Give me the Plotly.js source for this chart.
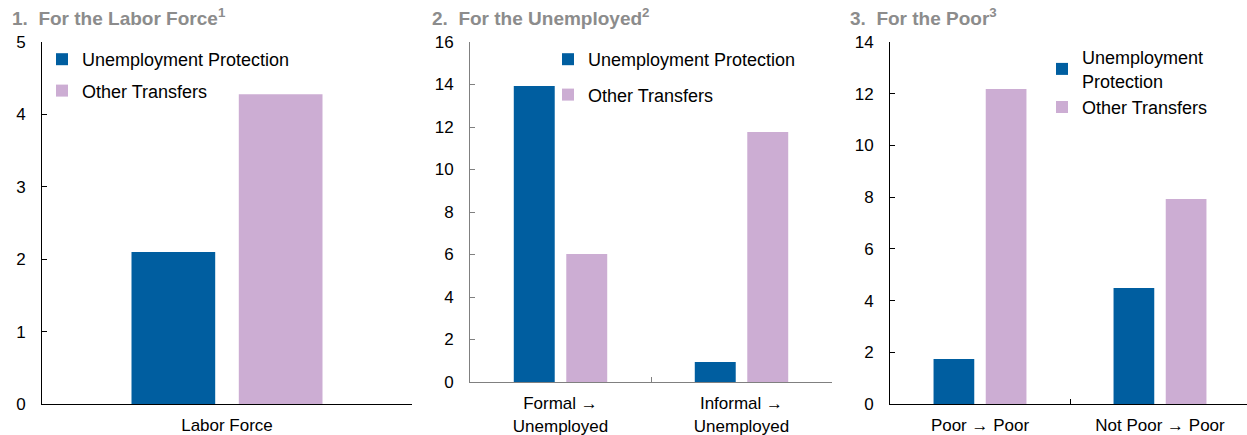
<!DOCTYPE html>
<html>
<head>
<meta charset="utf-8">
<script src="https://cdn.plot.ly/plotly-3.0.1.min.js"></script>
<style>html,body{margin:0;padding:0;background:#fff;}#chart{width:1247px;height:435px;}</style>
</head>
<body>
<div id="chart"></div>
<script>
// Data
const cats1 = ["Labor Force"];
const cats2 = ["Formal →<br>Unemployed", "Informal →<br>Unemployed"];
const cats3 = ["Poor → Poor", "Not Poor → Poor"];
const unempProt1 = [2.10];
const otherTr1 = [4.28];
const unempProt2 = [13.93, 0.94];
const otherTr2 = [6.02, 11.76];
const unempProt3 = [1.74, 4.49];
const otherTr3 = [12.18, 7.93];
const titles = ["1.&nbsp;&nbsp;For the Labor Force<sup>1</sup>", "2.&nbsp;&nbsp;For the Unemployed<sup>2</sup>", "3.&nbsp;&nbsp;For the Poor<sup>3</sup>"];

const BLUE = "#005EA0", PINK = "#CCADD3";
const W = 1247, H = 435;
const px = v => v / W;
const py = v => 1 - v / H;

const traces = [
  {type:"bar", x:cats1, y:unempProt1, name:"Unemployment Protection", marker:{color:BLUE}, xaxis:"x", yaxis:"y", legend:"legend", legendgroup:"a1"},
  {type:"bar", x:cats1, y:otherTr1, name:"Other Transfers", marker:{color:PINK}, xaxis:"x", yaxis:"y", legend:"legend", legendgroup:"b1"},
  {type:"bar", x:cats2, y:unempProt2, name:"Unemployment Protection", marker:{color:BLUE}, xaxis:"x2", yaxis:"y2", legend:"legend2", legendgroup:"a2"},
  {type:"bar", x:cats2, y:otherTr2, name:"Other Transfers", marker:{color:PINK}, xaxis:"x2", yaxis:"y2", legend:"legend2", legendgroup:"b2"},
  {type:"bar", x:cats3, y:unempProt3, name:"Unemployment<br>Protection", marker:{color:BLUE}, xaxis:"x3", yaxis:"y3", legend:"legend3", legendgroup:"a3"},
  {type:"bar", x:cats3, y:otherTr3, name:"Other Transfers", marker:{color:PINK}, xaxis:"x3", yaxis:"y3", legend:"legend3", legendgroup:"b3"}
];
traces.forEach(t => { t.hoverinfo = "none"; });

const FONT = "Liberation Sans, Arial, sans-serif";
function xax(d, col, rng, anchor) {
  return {domain:d, type:"category", range:rng, anchor:anchor, showline:true, linecolor:col, linewidth:1,
    ticks:"inside", tickson:"boundaries", ticklen:5, tickcolor:col, showgrid:false, zeroline:false,
    ticklabelstandoff:6,
    tickfont:{family:FONT, size:17, color:"#000"}, fixedrange:true};
}
function yax(d, col, rng, dt, anchor) {
  return {domain:d, range:rng, dtick:dt, tick0:0, showline:true, linecolor:col, linewidth:1,
    ticks:"inside", ticklen:5, tickcolor:col, showgrid:false, zeroline:false, anchor:anchor,
    ticklabelstandoff:12,
    tickfont:{family:FONT, size:17, color:"#000"}, fixedrange:true};
}
function leg(x, y, gap) {
  return {x:x, y:y, xanchor:"left", yanchor:"top", traceorder:"grouped", tracegroupgap:gap,
    font:{family:FONT, size:18, color:"#000"}, bgcolor:"rgba(0,0,0,0)", borderwidth:0, itemclick:false, itemdoubleclick:false};
}
function ttl(i, x) {
  return {text:titles[i], x:px(x), y:py(17), xref:"paper", yref:"paper", xanchor:"left", yanchor:"middle", showarrow:false,
     font:{family:FONT, size:19, color:"#8C8C8C", weight:"bold"}};
}

const layout = {
  width:W, height:H, margin:{l:0, r:0, t:0, b:0},
  paper_bgcolor:"#fff", plot_bgcolor:"#fff",
  barmode:"group", bargap:0.42, bargroupgap:0.22,
  font:{family:FONT, color:"#000"},
  xaxis: xax([px(42), px(412)], "#000", [-0.5, 0.5], "y"),
  yaxis: yax([py(404), py(42)], "#000", [0, 5], 1, "x"),
  xaxis2: xax([px(470), px(832)], "#808080", [-0.5, 1.5], "y2"),
  yaxis2: yax([py(382), py(42)], "#808080", [0, 16], 2, "x2"),
  xaxis3: xax([px(890), 1], "#000", [-0.5, 1.5 - 3/180], "y3"),
  yaxis3: yax([py(404), py(42)], "#000", [0, 14], 2, "x3"),
  legend: leg(px(42), py(41), 5),
  legend2: leg(px(548), py(41), 9),
  legend3: leg(px(1042), py(39), 0),
  annotations: [ttl(0, 10), ttl(1, 430), ttl(2, 848)]
};

Plotly.newPlot("chart", traces, layout, {staticPlot:true, displayModeBar:false});
</script>
</body>
</html>
